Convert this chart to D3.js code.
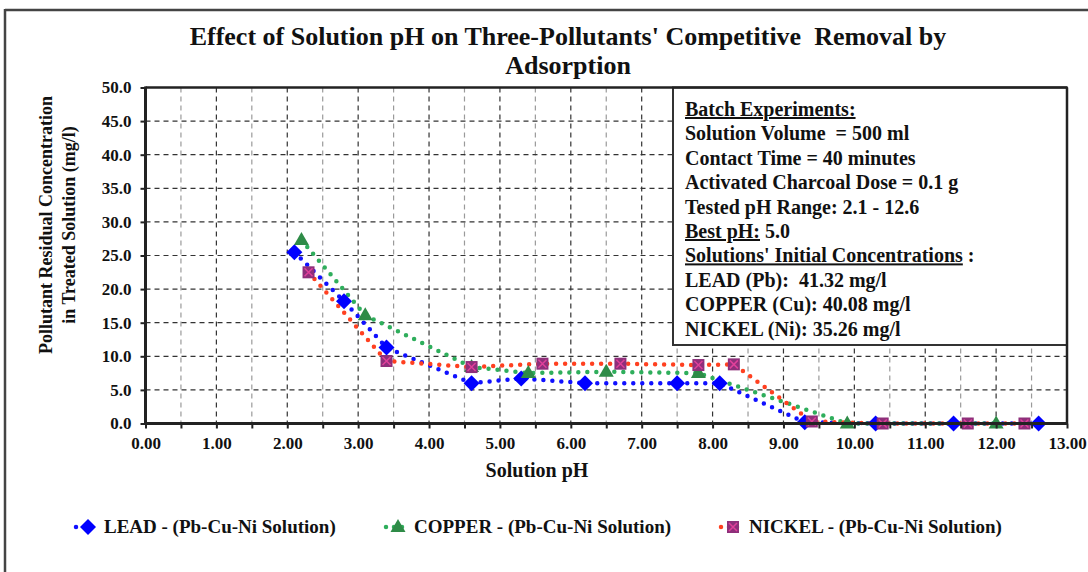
<!DOCTYPE html>
<html>
<head>
<meta charset="utf-8">
<script src="https://cdn.jsdelivr.net/npm/d3@7"></script>
<style>
  html, body { margin: 0; padding: 0; background: #fff; }
  svg { display: block; }
  text { font-family: "Liberation Serif", "Times New Roman", serif; font-weight: bold; fill: #111; }
</style>
</head>
<body>
<svg id="chart" width="1088" height="572"></svg>
<script>
// Residual concentration (mg/l) against solution pH for each pollutant
const phLead    = [2.1, 2.8, 3.4, 4.6, 5.3, 6.2, 7.5, 8.1, 9.3, 10.3, 11.4, 12.6];
const leadConc  = [25.5, 18.2, 11.3, 6.0, 6.7, 6.0, 6.0, 6.0, 0.2, 0.0, 0.0, 0.0];
const phCopper   = [2.2, 3.1, 4.6, 5.4, 6.5, 7.8, 9.9, 12.0];
const copperConc = [27.3, 16.1, 8.4, 7.5, 7.7, 7.5, 0.0, 0.0];
const phNickel   = [2.3, 3.4, 4.6, 5.6, 6.7, 7.8, 8.3, 9.4, 10.4, 11.6, 12.4];
const nickelConc = [22.5, 9.3, 8.4, 8.9, 8.9, 8.7, 8.8, 0.3, 0.0, 0.0, 0.0];

const seriesNames = ["LEAD - (Pb-Cu-Ni Solution)", "COPPER - (Pb-Cu-Ni Solution)", "NICKEL - (Pb-Cu-Ni Solution)"];
const yTickValues = d3.range(0, 50.01, 5);
const titleLines = ["Effect of Solution pH on Three-Pollutants' Competitive  Removal by", "Adsorption"];
const yTitleLines = ["Pollutant Residual Concentration", "in Treated Solution (mg/l)"];
const xTitle = "Solution pH";
const noteLines = [
  [{t: "Batch Experiments:", u: true}],
  [{t: "Solution Volume  = 500 ml"}],
  [{t: "Contact Time = 40 minutes"}],
  [{t: "Activated Charcoal Dose = 0.1 g"}],
  [{t: "Tested pH Range: 2.1 - 12.6"}],
  [{t: "Best pH:", u: true}, {t: " 5.0"}],
  [{t: "Solutions' Initial Concentrations", u: true}, {t: " :"}],
  [{t: "LEAD (Pb):  41.32 mg/l"}],
  [{t: "COPPER (Cu): 40.08 mg/l"}],
  [{t: "NICKEL (Ni): 35.26 mg/l"}]
];

const series = [
  {name: seriesNames[0], xs: phLead,   ys: leadConc,   line: "#1010ff", marker: "diamond"},
  {name: seriesNames[1], xs: phCopper, ys: copperConc, line: "#2fae5c", marker: "triangle"},
  {name: seriesNames[2], xs: phNickel, ys: nickelConc, line: "#ff4020", marker: "square"}
];

const svg = d3.select("#chart");
const plot = {left: 145.5, right: 1067, top: 87.5, bottom: 423.5};

const x = d3.scaleLinear().domain([0, 13]).range([plot.left, plot.right]);
const y = d3.scaleLinear().domain([0, 50]).range([plot.bottom, plot.top]);

// Chart area frame (top and left edges)
svg.append("line").attr("x1", 5).attr("x2", 1088).attr("y1", 10).attr("y2", 10)
  .attr("stroke", "#444").attr("stroke-width", 2.5);
svg.append("line").attr("x1", 5).attr("x2", 5).attr("y1", 9).attr("y2", 572)
  .attr("stroke", "#444").attr("stroke-width", 2.5);

// Title
svg.append("g").selectAll("text").data(titleLines).join("text")
  .attr("x", 568).attr("y", (d, i) => 45 + i * 29)
  .attr("text-anchor", "middle").attr("font-size", 26).text(d => d)
  .style("white-space", "pre");

// Grid
const grid = svg.append("g");
grid.selectAll("line.v").data(d3.range(0.5, 13, 0.5)).join("line")
  .attr("class", "v")
  .attr("x1", d => x(d)).attr("x2", d => x(d))
  .attr("y1", plot.top).attr("y2", plot.bottom)
  .attr("stroke", d => Number.isInteger(d) ? "#333" : "#9a9a9a")
  .attr("stroke-width", 1.2).attr("stroke-dasharray", "5,4");
grid.selectAll("line.h").data(yTickValues.filter(v => v > 0 && v < 50)).join("line")
  .attr("class", "h")
  .attr("x1", plot.left).attr("x2", plot.right)
  .attr("y1", d => y(d)).attr("y2", d => y(d))
  .attr("stroke", "#333").attr("stroke-width", 1.2).attr("stroke-dasharray", "5,4");

// Marker shapes
function drawMarker(g, kind, cx, cy) {
  if (kind === "diamond") {
    g.append("path").attr("d", `M${cx},${cy - 8}L${cx + 8},${cy}L${cx},${cy + 8}L${cx - 8},${cy}Z`)
      .attr("fill", "#0000ff");
  } else if (kind === "triangle") {
    g.append("path").attr("d", `M${cx},${cy - 8}L${cx + 7.5},${cy + 5}L${cx - 7.5},${cy + 5}Z`)
      .attr("fill", "#2e8b47");
  } else {
    g.append("rect").attr("x", cx - 6).attr("y", cy - 6).attr("width", 12).attr("height", 12)
      .attr("fill", "#8e2f7a");
    g.append("path").attr("d", `M${cx - 4},${cy - 4}L${cx + 4},${cy + 4}M${cx + 4},${cy - 4}L${cx - 4},${cy + 4}`)
      .attr("stroke", "#e0409a").attr("stroke-width", 1.5);
  }
}

// Series lines and markers
const lineGen = d3.line().x(d => x(d[0])).y(d => y(d[1]));
series.forEach(s => {
  const pts = s.xs.map((v, i) => [v, s.ys[i]]);
  svg.append("path").datum(pts).attr("d", lineGen)
    .attr("fill", "none").attr("stroke", s.line).attr("stroke-width", 4.5)
    .attr("stroke-linecap", "round").attr("stroke-dasharray", "0,9");
});
series.forEach(s => {
  const g = svg.append("g");
  s.xs.forEach((v, i) => drawMarker(g, s.marker, x(v), y(s.ys[i])));
});

// Note box
const box = svg.append("g");
box.append("rect").attr("x", 673).attr("y", plot.top).attr("width", plot.right - 673).attr("height", 345 - plot.top)
  .attr("fill", "#fff").attr("stroke", "#333").attr("stroke-width", 2);
const noteText = box.selectAll("text").data(noteLines).join("text")
  .attr("x", 685).attr("y", (d, i) => 116 + i * 24.4).attr("font-size", 20);
noteText.each(function(parts) {
  d3.select(this).selectAll("tspan").data(parts).join("tspan")
    .attr("text-decoration", d => d.u ? "underline" : null)
    .style("white-space", "pre").text(d => d.t);
});

// Axes
const xAxis = d3.axisBottom(x).tickValues(d3.range(0, 13.01, 0.5)).tickSize(5)
  .tickFormat(d => Number.isInteger(d) ? d3.format(".2f")(d) : "");
const gx = svg.append("g").attr("transform", `translate(0,${plot.bottom})`).call(xAxis);
gx.select(".domain").remove();
gx.selectAll(".tick line").attr("stroke", "#222").attr("stroke-width", 2);
gx.selectAll(".tick text").attr("font-size", 17).attr("dy", "1.0em").attr("fill", "#111");

const yAxis = d3.axisLeft(y).tickValues(yTickValues).tickSize(5).tickFormat(d3.format(".1f"));
const gy = svg.append("g").attr("transform", `translate(${plot.left},0)`).call(yAxis);
gy.select(".domain").remove();
gy.selectAll(".tick line").attr("stroke", "#222").attr("stroke-width", 2);
gy.selectAll(".tick text").attr("font-size", 17).attr("x", -14).attr("fill", "#111");

// Plot frame
svg.append("line").attr("x1", plot.left).attr("x2", plot.right).attr("y1", plot.top).attr("y2", plot.top)
  .attr("stroke", "#222").attr("stroke-width", 2.5);
svg.append("line").attr("x1", plot.right).attr("x2", plot.right).attr("y1", plot.top).attr("y2", plot.bottom)
  .attr("stroke", "#222").attr("stroke-width", 2.5);
svg.append("line").attr("x1", plot.left).attr("x2", plot.left).attr("y1", plot.top - 1).attr("y2", plot.bottom + 1.5)
  .attr("stroke", "#222").attr("stroke-width", 3);
svg.append("line").attr("x1", plot.left).attr("x2", plot.right + 1).attr("y1", plot.bottom).attr("y2", plot.bottom)
  .attr("stroke", "#222").attr("stroke-width", 3);

// Axis titles
svg.append("text").attr("x", 537).attr("y", 477).attr("text-anchor", "middle")
  .attr("font-size", 20).text(xTitle);
svg.append("g").attr("transform", "translate(0,225) rotate(-90)")
  .selectAll("text").data(yTitleLines).join("text")
  .attr("x", 0).attr("y", (d, i) => 52 + i * 23).attr("text-anchor", "middle")
  .attr("font-size", 18).text(d => d);

// Legend
const legendX = [73, 383, 718];
series.forEach((s, i) => {
  const g = svg.append("g").attr("transform", `translate(${legendX[i]},527)`);
  g.append("line").attr("x1", 3).attr("x2", 27).attr("y1", 0).attr("y2", 0)
    .attr("stroke", s.line).attr("stroke-width", 4.5).attr("stroke-linecap", "round").attr("stroke-dasharray", "0,8");
  drawMarker(g, s.marker, 15, 0);
  g.append("text").attr("x", 31).attr("y", 6).attr("font-size", 19).text(s.name);
});
</script>
</body>
</html>
